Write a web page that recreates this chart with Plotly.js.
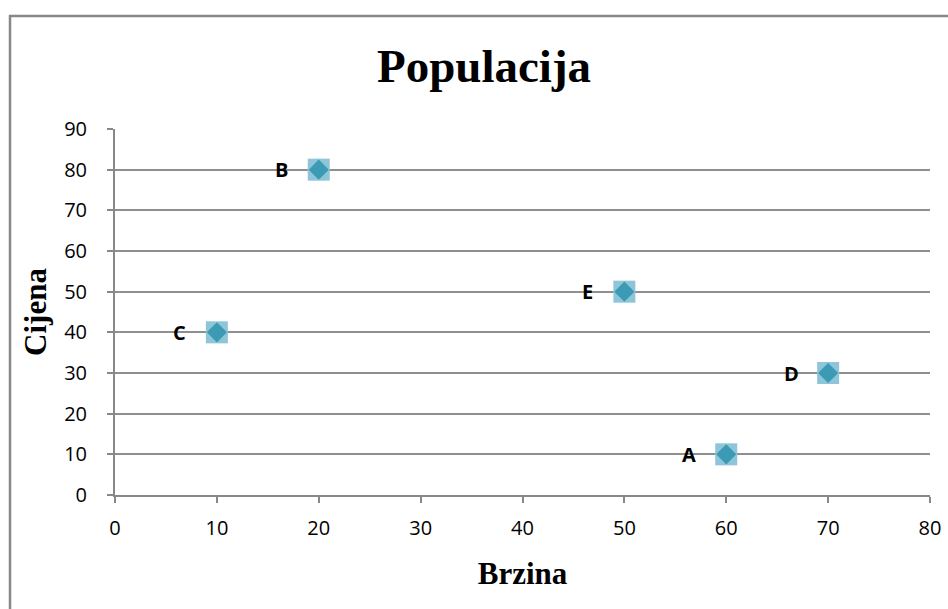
<!DOCTYPE html>
<html><head><meta charset="utf-8">
<script src="https://cdn.plot.ly/plotly-3.0.1.min.js"></script>
<style>html,body{margin:0;padding:0;background:#fff;}#chart{width:948px;height:609px;}</style>
</head><body><div id="chart"></div>
<script>
const labels = ['A','B','C','D','E'];
const brzina = [60, 20, 10, 70, 50];
const cijena = [10, 80, 40, 30, 50];
const xTicks = [0,10,20,30,40,50,60,70,80];
const yTicks = [0,10,20,30,40,50,60,70,80,90];

const W = 948, H = 609;
const m = {l:115, r:18, t:129, b:114};
const pw = W - m.l - m.r, ph = H - m.t - m.b;
function px(x){return (x - m.l)/pw;}
function py(y){return (H - m.b - y)/ph;}
const sans = 'Open Sans, Liberation Sans, sans-serif';
const serif = 'Liberation Serif, Times New Roman, serif';

const traces = [
  {x: brzina, y: cijena, mode:'markers', type:'scatter', hoverinfo:'skip',
   marker:{symbol:'square', size:22, color:'#8ec5d9', line:{width:0}}},
  {x: brzina, y: cijena, mode:'markers', type:'scatter', hoverinfo:'skip',
   marker:{symbol:'diamond', size:15.5, color:'#3d9ab4', line:{width:0}}}
];

const annotations = labels.map((t,i)=>({
  x: brzina[i], y: cijena[i], xref:'x', yref:'y', text:'<b>'+t+'</b>',
  showarrow:false, xshift:-37, font:{family:sans, size:20, color:'#000'}
}));

const layout = {
  width:W, height:H, margin:m, showlegend:false,
  paper_bgcolor:'#fff', plot_bgcolor:'#fff',
  title:{text:'<b>Populacija</b>', x:px(484), xref:'paper', xanchor:'center', y:1-66/H, yanchor:'middle',
    font:{family:serif, size:47, color:'#000'}},
  xaxis:{range:[0,80], tickvals:xTicks, ticktext:xTicks.map(String), showgrid:false, zeroline:false,
    showline:true, linecolor:'#888', linewidth:2, ticks:'outside', ticklen:6, tickcolor:'#888', tickwidth:2,
    ticklabelstandoff:8,
    tickfont:{family:sans, size:20, color:'#000'},
    title:{text:'<b>Brzina</b>', standoff:22, font:{family:serif, size:31, color:'#000'}}},
  yaxis:{range:[0,90], tickvals:yTicks, ticktext:yTicks.map(String), showgrid:true, gridcolor:'#8f8f8f', gridwidth:2,
    zeroline:false, showline:true, linecolor:'#888', linewidth:2, ticks:'outside', ticklen:6, tickcolor:'#888', tickwidth:2,
    ticklabelstandoff:16,
    tickfont:{family:sans, size:20, color:'#000'},
    title:{text:'<b>Cijena</b>', standoff:8, font:{family:serif, size:31, color:'#000'}}},
  annotations: annotations,
  shapes:[
    {type:'line', xref:'paper', yref:'paper', x0:px(10), x1:px(10), y0:py(15), y1:py(620), line:{color:'#888', width:2.5}},
    {type:'line', xref:'paper', yref:'paper', x0:px(9), x1:px(960), y0:py(16), y1:py(16), line:{color:'#888', width:2.5}}
  ]
};
Plotly.newPlot('chart', traces, layout, {displayModeBar:false, staticPlot:true});
</script></body></html>
